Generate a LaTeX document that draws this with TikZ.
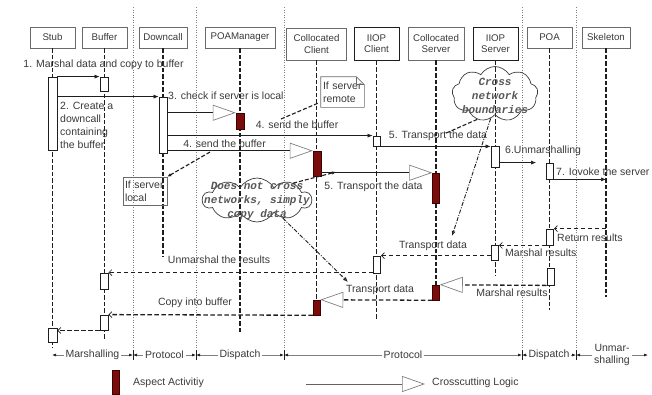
\documentclass[tikz,border=0pt]{standalone}
\usepackage{fontspec}
\setmainfont{Liberation Sans}
\newfontfamily\cloudfont{Liberation Mono}
\usetikzlibrary{arrows.meta,shapes.symbols,calc}

\definecolor{ink}{HTML}{3A3A3A}
\definecolor{lineink}{HTML}{1E1E1E}
\definecolor{aspect}{HTML}{7B0C0C}
\definecolor{aspectedge}{HTML}{400000}
\definecolor{boxedge}{HTML}{6A6A6A}
\definecolor{tipgray}{HTML}{808080}

\tikzset{
  head/.style={draw=boxedge, line width=0.7pt, fill=white, text=ink,
    font=\fontsize{9.7}{11.5}\selectfont, align=center, inner sep=0pt},
  headstrong/.style={head, draw=lineink, line width=1pt},
  lifeline/.style={draw=lineink, line width=1.6pt, dash pattern=on 4.5pt off 2pt},
  separator/.style={draw=gray, line width=0.9pt, dash pattern=on 0.9pt off 1.6pt},
  act/.style={draw=lineink, line width=0.8pt, fill=white, inner sep=0pt, minimum width=8pt},
  aspectbar/.style={draw=aspectedge, line width=0.5pt, fill=aspect, inner sep=0pt, minimum width=7pt},
  call/.style={draw=lineink, line width=0.6pt, -{Latex[length=5pt,width=4pt]}},
  reply/.style={draw=lineink, line width=1.3pt, dash pattern=on 4.5pt off 2.5pt,
    -{Straight Barb[length=3pt,width=6pt,line width=0.7pt]}},
  bigtip/.style={-{Triangle[open,length=23pt,width=16pt,line width=0.7pt,color=tipgray,fill=white]}},
  cross/.style={draw=lineink, line width=0.6pt, bigtip},
  crossreply/.style={draw=lineink, line width=1.3pt, dash pattern=on 4.5pt off 2.5pt, bigtip},
  lbl/.style={text=ink, font=\fontsize{10.5}{13}\selectfont, inner sep=0pt},
  notebox/.style={draw=boxedge, line width=0.6pt, inner sep=0pt, text=ink,
    font=\fontsize{10.5}{13}\selectfont, align=left},
  notelink/.style={draw=lineink, line width=1.1pt, dash pattern=on 4pt off 2pt},
  hintlink/.style={draw=lineink, line width=0.9pt, dash pattern=on 4pt off 1.5pt on 1pt off 1.5pt,
    -{Latex[open,length=5pt,width=4pt]}},
  bubble/.style={cloud, draw=ink, line width=0.7pt, inner sep=0pt},
  bubbletext/.style={text=ink!85, font=\cloudfont\bfseries\itshape\fontsize{11}{14}\selectfont,
    align=center, inner sep=0pt},
  phase/.style={draw=tipgray, line width=0.6pt, {Latex[length=4pt,width=3pt,color=lineink]}-{Latex[length=4pt,width=3pt,color=lineink]}},
  phaselbl/.style={lbl, fill=white, inner xsep=2pt, align=center, font=\fontsize{10.5}{12.5}\selectfont},
  tick/.style={draw=lineink, line width=0.9pt},
}

\begin{document}
\begin{tikzpicture}[x=1pt,y=-1pt]
\useasboundingbox (0,0) rectangle (652,394);

% phase separators
\foreach \sx in {133,196,284,522,576}
  \draw[separator] (\sx,7) -- (\sx,358);

% participants
\node[head, minimum width=45pt, minimum height=21pt] (stub) at (52.5,37.5) {Stub};
\node[head, minimum width=45pt, minimum height=21pt] (buf) at (104.5,37.5) {Buffer};
\node[head, minimum width=48pt, minimum height=21pt] (dc) at (163,37.5) {Downcall};
\node[head, minimum width=70pt, minimum height=21pt] (poam) at (240,37.5) {POAManager};
\node[head, minimum width=60pt, minimum height=32pt] (cc) at (316.5,44) {Collocated\\Client};
\node[headstrong, minimum width=45pt, minimum height=33pt] (ic) at (376.5,43.5) {IIOP\\Client};
\node[head, minimum width=56pt, minimum height=33pt] (cs) at (436,43.5) {Collocated\\Server};
\node[headstrong, minimum width=45pt, minimum height=33pt] (is) at (495.5,43.5) {IIOP\\Server};
\node[head, minimum width=45pt, minimum height=21pt] (poa) at (549.5,37.5) {POA};
\node[head, minimum width=48pt, minimum height=21pt] (skel) at (606,37.5) {Skeleton};

% lifelines
\draw[lifeline] (stub.south) -- ++(0,300);
\draw[lifeline] (buf.south) -- ++(0,292);
\draw[lifeline] (dc.south) -- ++(0,209);
\draw[lifeline] (poam.south) -- ++(0,285);
\draw[lifeline] (cc.south) -- ++(0,255);
\draw[lifeline] (ic.south) -- ++(0,258);
\draw[lifeline] (cs.south) -- ++(0,240);
\draw[lifeline] (is.south) -- ++(0,215);
\draw[lifeline] (poa.south) -- ++(0,262);
\draw[lifeline] (skel.south) -- ++(0,249);

% activations
\node[act, minimum width=9pt, minimum height=73pt] (stubA1) at (52.5,113.5) {};
\node[act, minimum width=9pt, minimum height=14pt] (stubA2) at (52.5,335) {};
\node[act, minimum height=14pt] (bufA1) at (104,84) {};
\node[act, minimum height=16pt] (bufA2) at (104,281) {};
\node[act, minimum height=15pt] (bufA3) at (104,322.5) {};
\node[act, minimum height=56pt] (dcA) at (163,125) {};
\node[act, minimum width=7pt, minimum height=10pt] (icA1) at (376.5,141) {};
\node[act, minimum width=7pt, minimum height=17pt] (icA2) at (377,264.5) {};
\node[act, minimum height=21pt] (isA1) at (495,156.5) {};
\node[act, minimum width=7pt, minimum height=15pt] (isA2) at (495,252.5) {};
\node[act, minimum width=7pt, minimum height=16pt] (poaA1) at (550,171) {};
\node[act, minimum width=7pt, minimum height=16pt] (poaA2) at (550,237) {};
\node[act, minimum width=7pt, minimum height=17pt] (poaA3) at (550.5,276.5) {};

% aspect activity
\node[aspectbar, minimum width=8pt, minimum height=16pt] (poamR) at (240,121) {};
\node[aspectbar, minimum width=8pt, minimum height=25pt] (ccR1) at (317,163.5) {};
\node[aspectbar, minimum height=15pt] (ccR2) at (316.5,307.5) {};
\node[aspectbar, minimum height=30pt] (csR1) at (436,188) {};
\node[aspectbar, minimum height=15pt] (csR2) at (436,292.5) {};

% request path
\draw[call] (stubA1.north east) -- (bufA1.north west);
\node[lbl] (m1) at (103.5,65) {1. Marshal data and copy to buffer};
\draw[call] (stubA1.east |- dcA.north) -- (dcA.north west);
\node[lbl, anchor=north west, align=left] (m2) at (60,101.5) {2. Create a\\downcall\\containing\\the buffer};
\draw[cross] (dcA.east |- poamR.north) -- (poamR.north west);
\node[lbl, anchor=west] (m3) at (168,96) {3. check if server is local};
\draw[call] (dcA.east |- icA1.north) -- (icA1.north west);
\node[lbl] (m4a) at (297,125) {4. send the buffer};
\draw[cross] (dcA.east |- ccR1.north) -- (ccR1.north west);
\node[lbl] (m4b) at (224.5,144) {4. send the buffer};
\draw[call] (icA1.south east) -- (icA1.south -| isA1.west);
\node[lbl] (m5a) at (438,136) {5. Transport the data};
\draw[cross] (ccR1.east |- csR1.north) -- (csR1.north west);
\node[lbl] (m5b) at (373.5,187) {5. Transport the data};
\draw[call, shorten >=10pt] (isA1.east |- poaA1.north) -- (poaA1.north west);
\node[lbl, anchor=west] (m6) at (505,151) {6.Unmarshalling};
\draw[call] (poaA1.south east) -- (poaA1.south -| skel);
\node[lbl, anchor=west] (m7) at (556,172) {7. Iovoke the server};

% reply path
\draw[reply] (poaA2.north -| skel) -- (poaA2.north east);
\node[lbl, anchor=west] (r1) at (557,238) {Return results};
\draw[reply] (poaA2.south west) -- (poaA2.south -| isA2.east);
\node[lbl, anchor=west] (r2) at (505,253) {Marshal results};
\draw[reply] (isA2.west |- icA2.north) -- (icA2.north east);
\node[lbl] (r3) at (433,246) {Transport data};
\draw[reply] (icA2.west |- bufA2.north) -- (bufA2.north east);
\node[lbl] (r4) at (219,260) {Unmarshal the results};
\draw[crossreply] (poaA3.south west) -- (csR2.north east);
\node[lbl] (r5) at (512,293) {Marshal results};
\draw[crossreply] (csR2.south west) -- (ccR2.north east);
\node[lbl] (r6) at (380,290) {Transport data};
\draw[reply] (ccR2.south west) -- (bufA3.north east);
\node[lbl] (r7) at (195,303) {Copy into buffer};
\draw[reply] (bufA3.south west) -- (bufA3.south -| stubA2.east);

% notes
\node[notebox, draw=none, minimum width=43pt, minimum height=30pt, text width=39pt] (noteR) at (342.5,92) {If server\\remote};
\draw[boxedge, line width=0.6pt] (noteR.north west) -- ($(noteR.north east)+(-8,0)$) -- ($(noteR.north east)+(0,8)$)
  -- (noteR.south east) -- (noteR.south west) -- cycle;
\draw[boxedge, line width=0.6pt] ($(noteR.north east)+(-8,0)$) -- ($(noteR.north east)+(-8,8)$) -- ($(noteR.north east)+(0,8)$);
\coordinate (remoteTip) at (281,119);
\draw[notelink] ($(noteR.south west)+(-3,-4)$) -- (remoteTip);

\node[notebox, minimum width=44pt, minimum height=28pt, text width=40pt] (noteL) at (145,191) {If server\\local};
\coordinate (localTail) at (210,152);
\draw[notelink, -{Latex[length=4pt,width=3.5pt]}] (localTail) -- (noteL.north east);

% clouds
\node[bubble, cloud puffs=10, cloud puff arc=120, aspect=2.5, minimum width=109pt, minimum height=44pt] (cloudA) at (257,200) {};
\node[bubbletext] (cloudAtext) at (257,201) {Does not cross\\networks, simply\\copy data};
\coordinate (cloudAtipUp) at (336,172);
\coordinate (cloudAtipDown) at (348,282);
\draw[notelink, -{Latex[length=4pt,width=3.5pt]}] (cloudA.25) -- (cloudAtipUp);
\draw[hintlink] (cloudA.-35) -- (cloudAtipDown);

\node[bubble, cloud puffs=9, cloud puff arc=120, aspect=1.6, minimum width=86pt, minimum height=55pt] (cloudB) at (495,94) {};
\node[bubbletext] (cloudBtext) at (495,96) {Cross\\network\\boundaries};
\coordinate (cloudBtipA) at (444,134);
\coordinate (cloudBtipB) at (452,236);
\draw[notelink] (cloudB.-125) -- (cloudBtipA);
\draw[hintlink] (cloudB.-100) -- (cloudBtipB);

% phase axis
\coordinate (ax0) at (52,355);
\coordinate (ax1) at (133,355);
\coordinate (ax2) at (196,355);
\coordinate (ax3) at (284,355);
\coordinate (ax4) at (522,355);
\coordinate (ax5) at (576,355);
\coordinate (ax6) at (648,355);
\draw[phase] (ax0) -- node[phaselbl] (p1) {Marshalling} (ax1);
\draw[phase] (ax1) -- node[phaselbl] (p2) {Protocol} (ax2);
\draw[phase] (ax2) -- node[phaselbl] (p3) {Dispatch} (ax3);
\draw[phase] (ax3) -- node[phaselbl] (p4) {Protocol} (ax4);
\draw[phase] (ax4) -- node[phaselbl] (p5) {Dispatch} (ax5);
\draw[phase] (ax5) -- node[phaselbl] (p6) {Unmar-\\shalling} (ax6);
\foreach \t in {ax1,ax2,ax3,ax4,ax5}
  \draw[tick] ($(\t)+(0,-5)$) -- ($(\t)+(0,5)$);

% legend
\node[aspectbar, minimum height=24pt] (legBar) at (116,382) {};
\node[lbl, anchor=west] (legBarText) at (133,383) {Aspect Activitiy};
\coordinate (legLineStart) at (306,384);
\coordinate (legLineEnd) at (425,384);
\draw[draw=lineink!70, line width=0.5pt, bigtip] (legLineStart) -- (legLineEnd);
\node[lbl, anchor=west] (legLineText) at (432,383) {Crosscutting Logic};
\end{tikzpicture}
\end{document}
